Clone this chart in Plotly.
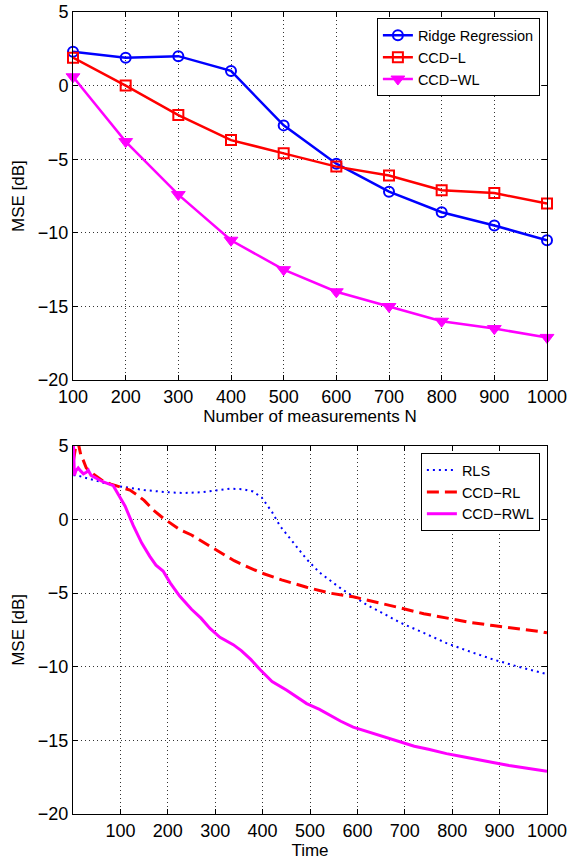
import plotly.graph_objects as go
from plotly.subplots import make_subplots

# top panel: MSE vs number of measurements
n_meas = [100, 200, 300, 400, 500, 600, 700, 800, 900, 1000]
ridge = [2.3, 1.9, 2.0, 1.0, -2.7, -5.3, -7.2, -8.6, -9.5, -10.5]
ccd_l = [1.9, 0.0, -2.0, -3.7, -4.6, -5.5, -6.1, -7.1, -7.3, -8.0]
ccd_wl = [0.6, -3.8, -7.4, -10.5, -12.5, -14.0, -15.0, -16.0, -16.5, -17.1]

# bottom panel: MSE vs time
rls_t = [1, 8, 30, 64, 99, 150, 200, 233, 270, 300, 331, 360, 380, 398, 420,
         437, 460, 493, 520, 549, 570, 591, 620, 650, 690, 740, 788, 840, 886,
         940, 985, 1000]
rls_v = [3.0, 3.0, 2.8, 2.5, 2.25, 2.0, 1.85, 1.8, 1.85, 1.95, 2.1, 2.05, 1.9,
         1.5, 0.5, -0.45, -1.4, -2.7, -3.6, -4.3, -4.8, -5.2, -5.8, -6.3, -7.0,
         -7.7, -8.4, -9.0, -9.5, -10.0, -10.4, -10.5]

rl_t = [1, 5, 11, 17, 22, 28, 36, 50, 64, 80, 99, 120, 134, 150, 169, 190,
        226, 250, 296, 340, 395, 440, 493, 542, 591, 640, 690, 740, 788, 840,
        886, 940, 985, 1000]
rl_v = [4.0, 4.8, 5.2, 4.3, 4.0, 3.5, 3.25, 2.9, 2.6, 2.4, 2.2, 2.0, 1.7, 1.3,
        0.65, 0.1, -0.7, -1.05, -1.95, -2.8, -3.6, -4.1, -4.6, -5.0, -5.25,
        -5.6, -6.0, -6.4, -6.7, -7.0, -7.2, -7.4, -7.6, -7.7]

rwl_t = [1, 2, 3, 6, 11, 16, 22, 28, 32, 38, 43, 55, 64, 75, 85, 92, 99, 110,
         127, 145, 162, 175, 190, 205, 225, 250, 270, 289, 310, 338, 355, 375,
         395, 420, 451, 475, 493, 520, 542, 565, 591, 620, 650, 690, 720, 750,
         788, 820, 850, 886, 920, 950, 985, 1000]
rwl_v = [5.0, 4.0, 3.0, 3.3, 3.5, 3.3, 3.1, 3.2, 3.35, 3.0, 2.9, 2.7, 2.55,
         2.4, 2.3, 1.9, 1.5, 0.9, -0.4, -1.6, -2.5, -3.1, -3.5, -4.3, -5.2,
         -6.1, -6.7, -7.4, -8.0, -8.5, -8.9, -9.5, -10.2, -11.0, -11.6, -12.1,
         -12.5, -12.9, -13.3, -13.7, -14.1, -14.4, -14.7, -15.1, -15.4, -15.6,
         -15.9, -16.1, -16.3, -16.5, -16.7, -16.85, -17.05, -17.1]

FONT = "Liberation Sans, Arial, Helvetica, sans-serif"
BLUE, RED, MAGENTA = "#0000ff", "#ff0000", "#ff00ff"

fig = make_subplots(rows=2, cols=1)

fig.add_trace(go.Scatter(x=n_meas, y=ridge, name="Ridge Regression",
                         mode="lines+markers", cliponaxis=False,
                         line=dict(color=BLUE, width=2.5),
                         marker=dict(symbol="circle-open", size=10, color=BLUE,
                                     line=dict(width=2))),
              row=1, col=1)
fig.add_trace(go.Scatter(x=n_meas, y=ccd_l, name="CCD\u2212L",
                         mode="lines+markers", cliponaxis=False,
                         line=dict(color=RED, width=2.5),
                         marker=dict(symbol="square-open", size=10, color=RED,
                                     line=dict(width=2))),
              row=1, col=1)
fig.add_trace(go.Scatter(x=n_meas, y=ccd_wl, name="CCD\u2212WL",
                         mode="lines+markers", cliponaxis=False,
                         line=dict(color=MAGENTA, width=2.5),
                         marker=dict(symbol="triangle-down", size=12, color=MAGENTA,
                                     line=dict(width=1, color=MAGENTA))),
              row=1, col=1)

fig.add_trace(go.Scatter(x=rls_t, y=rls_v, name="RLS", mode="lines",
                         line=dict(color=BLUE, width=2, dash="2px,4px"),
                         legend="legend2"),
              row=2, col=1)
fig.add_trace(go.Scatter(x=rl_t, y=rl_v, name="CCD\u2212RL", mode="lines",
                         line=dict(color=RED, width=3, dash="12px,6px"),
                         legend="legend2"),
              row=2, col=1)
fig.add_trace(go.Scatter(x=rwl_t, y=rwl_v, name="CCD\u2212RWL", mode="lines",
                         line=dict(color=MAGENTA, width=3),
                         legend="legend2"),
              row=2, col=1)

axis_style = dict(showline=True, linecolor="black", linewidth=1, mirror="ticks",
                  ticks="inside", ticklen=5, tickcolor="black", automargin=False,
                  ticklabeloverflow="allow",
                  showgrid=True, gridcolor="#333", griddash="1px,3px", gridwidth=1,
                  zeroline=False, tickfont=dict(size=18, color="black"),
                  title_font=dict(size=17, color="black"))

fig.update_xaxes(**axis_style)
fig.update_yaxes(**axis_style)

fig.update_xaxes(range=[100, 1000], tickvals=n_meas, domain=[0, 1],
                 title_text="Number of measurements N", title_standoff=2,
                 row=1, col=1)
fig.update_xaxes(range=[0, 1000], tickvals=n_meas, domain=[0, 1],
                 title_text="Time", title_standoff=2, row=2, col=1)
fig.update_yaxes(range=[-20, 5], tickvals=[-20, -15, -10, -5, 0, 5],
                 domain=[0.541, 1], title_text="MSE [dB]", title_standoff=8,
                 row=1, col=1)
fig.update_yaxes(range=[-20, 5], tickvals=[-20, -15, -10, -5, 0, 5],
                 domain=[0, 0.459], title_text="MSE [dB]", title_standoff=8,
                 row=2, col=1)

legend_style = dict(bgcolor="white", bordercolor="black", borderwidth=1,
                    font=dict(size=14.5, color="black"), xanchor="right",
                    yanchor="top", tracegroupgap=0)

fig.update_layout(
    width=570, height=861,
    margin=dict(l=73, r=23, t=12, b=47),
    paper_bgcolor="white", plot_bgcolor="white",
    font=dict(family=FONT, color="black"),
    legend=dict(x=0.985, y=0.992, **legend_style),
    legend2=dict(x=0.985, y=0.450, **legend_style),
)

# drop the default 8px page margin so the figure fills the window exactly
fig.write_html("out.html", config={"displayModeBar": False},
               post_script="document.body.style.margin='0';")
